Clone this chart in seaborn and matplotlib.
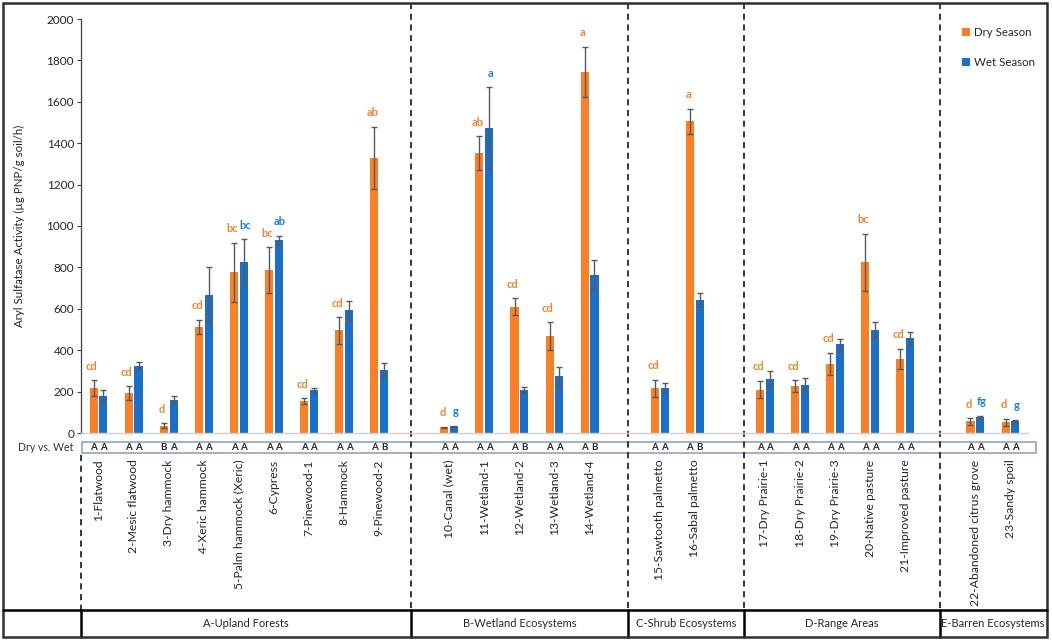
import seaborn as sns
import matplotlib.pyplot as plt
import pandas as pd
from matplotlib.patches import Rectangle

# site names (x categories)
sites = [
    "1-Flatwood", "2-Mesic flatwood", "3-Dry hammock", "4-Xeric hammock",
    "5-Palm hammock (Xeric)", "6-Cypress", "7-Pinewood-1", "8-Hammock", "9-Pinewood-2",
    "10-Canal (wet)", "11-Wetland-1", "12-Wetland-2", "13-Wetland-3", "14-Wetland-4",
    "15-Sawtooth palmetto", "16-Sabal palmetto",
    "17-Dry Prairie-1", "18-Dry Prairie-2", "19-Dry Prairie-3", "20-Native pasture",
    "21-Improved pasture",
    "22-Abandoned citrus grove", "23-Sandy spoil",
]
dry = [217, 193, 35, 512, 777, 786, 153, 496, 1328, 27, 1352, 610, 469, 1745,
       217, 1505, 209, 225, 335, 824, 359, 56, 52]
dry_err = [37, 32, 12, 35, 143, 112, 14, 64, 150, 3, 82, 40, 66, 121,
           41, 60, 42, 29, 53, 139, 48, 16, 16]
wet = [180, 325, 161, 668, 826, 934, 206, 592, 303, 32, 1475, 209, 274, 762,
       217, 641, 262, 233, 428, 499, 457, 77, 56]
wet_err = [29, 18, 18, 134, 110, 20, 13, 45, 33, 4, 195, 15, 46, 72,
           26, 34, 36, 34, 26, 36, 32, 7, 7]
dry_letters = ["cd", "cd", "d", "cd", "bc", "bc", "cd", "cd", "ab", "d", "ab", "cd", "cd", "a",
               "cd", "a", "cd", "cd", "cd", "bc", "cd", "d", "d"]
wet_letters = ["", "", "", "", "bc", "ab", "", "", "", "g", "a", "", "", "",
               "", "", "", "", "", "", "", "fg", "g"]
dvw_dry = ["A", "A", "B", "A", "A", "A", "A", "A", "A", "A", "A", "A", "A", "A",
           "A", "A", "A", "A", "A", "A", "A", "A", "A"]
dvw_wet = ["A", "A", "A", "A", "A", "A", "A", "A", "B", "A", "A", "B", "A", "B",
           "A", "B", "A", "A", "A", "A", "A", "A", "A"]
groups = ["A-Upland Forests", "B-Wetland Ecosystems", "C-Shrub Ecosystems",
          "D-Range Areas", "E-Barren Ecosystems"]
group_sizes = [9, 5, 2, 5, 2]

# category order with an empty slot between ecosystem groups
order = []
k = 0
for gi, n in enumerate(group_sizes):
    order += sites[k:k + n]
    k += n
    if gi < len(group_sizes) - 1:
        order.append(" " * (gi + 1))

df = pd.DataFrame({
    "site": sites * 2,
    "value": dry + wet,
    "season": ["Dry Season"] * len(sites) + ["Wet Season"] * len(sites),
})

ORANGE = "#FB7F24"
BLUE = "#1A6FCA"

sns.set_style("white")
plt.rcParams["font.family"] = ["Lato", "DejaVu Sans"]

fig = plt.figure(figsize=(10.52, 6.40), dpi=100)
ax = fig.add_axes([81 / 1052, 207 / 640, 947 / 1052, 414 / 640])

sns.barplot(data=df, x="site", y="value", hue="season", order=order,
            palette={"Dry Season": ORANGE, "Wet Season": BLUE}, saturation=1,
            width=0.56, gap=0.18, errorbar=None, linewidth=0, ax=ax)

# error bars and letters
off = 0.14
for i, s in enumerate(sites):
    x = order.index(s)
    ax.errorbar([x - off, x + off], [dry[i], wet[i]], yerr=[dry_err[i], wet_err[i]],
                fmt="none", ecolor="#595959", elinewidth=1, capsize=2.5, capthick=1)
    ax.text(x - off - 0.05, dry[i] + dry_err[i] + 68, dry_letters[i], color="#F5842F",
            fontsize=8, fontweight="bold", ha="center", va="center")
    if wet_letters[i]:
        ax.text(x + off + 0.03, wet[i] + wet_err[i] + 68, wet_letters[i], color="#1484CC",
                fontsize=8, fontweight="bold", ha="center", va="center")
    ax.text(x - off, -0.035, dvw_dry[i], transform=ax.get_xaxis_transform(),
            fontsize=7, fontweight="bold", ha="center", va="center")
    ax.text(x + off, -0.035, dvw_wet[i], transform=ax.get_xaxis_transform(),
            fontsize=7, fontweight="bold", ha="center", va="center")

ax.set_xlim(-0.5, len(order) - 0.5)
ax.set_ylim(0, 2000)
ax.set_yticks(range(0, 2001, 200))
ax.set_xlabel("")
ax.set_ylabel("Aryl Sulfatase Activity (µg PNP/g soil/h)", fontsize=8.3)
ax.yaxis.set_label_coords(-0.059, 0.5)
ax.tick_params(axis="y", labelsize=8.5, length=3, width=0.8, color="#404040", pad=2, left=True)
ax.tick_params(axis="x", labelsize=8.7, length=0, pad=19, rotation=90)
for lab in ax.get_xticklabels():
    lab.set_verticalalignment("top")

sns.despine(ax=ax)
ax.spines["left"].set_color("#404040")
ax.spines["left"].set_linewidth(0.9)
ax.spines["bottom"].set_color("#D0D0D0")
ax.spines["bottom"].set_linewidth(1)

# "Dry vs. Wet" row
ax.add_patch(Rectangle((0.001, -0.0483), 1.0075, 0.0266, transform=ax.transAxes,
                       fill=False, ec="#8EA6BF", lw=1.2, clip_on=False))
ax.text(-0.0085, -0.035, "Dry vs. Wet", transform=ax.transAxes, fontsize=7.6,
        color="#333333", ha="right", va="center")

# dashed separators and bottom table
xt = ax.get_xaxis_transform()
seps = [8.9, 15.1, 18.4, 24.0]
ax.plot([-0.5, -0.5], [-0.053, -0.4275], transform=xt, color="black", lw=1.1,
        ls=(0, (4, 3)), clip_on=False)
for s in seps:
    ax.plot([s, s], [1.0386, -0.4275], transform=xt, color="black", lw=1.1,
            ls=(0, (4, 3)), clip_on=False)
edges = [-0.5] + seps + [27.0]
for s in edges[:-1]:
    ax.plot([s, s], [-0.4275, -0.4928], transform=xt, color="black", lw=1.8, clip_on=False)
for j, g in enumerate(groups):
    ax.text((edges[j] + edges[j + 1]) / 2, -0.459, g, transform=xt, fontsize=8,
            ha="center", va="center")
fig.add_artist(plt.Line2D([3 / 1052, 1047 / 1052], [1 - 610 / 640, 1 - 610 / 640],
                          transform=fig.transFigure, color="black", lw=1.8))
fig.add_artist(Rectangle((3 / 1052, 3 / 640), 1044 / 1052, 634 / 640, transform=fig.transFigure,
                         fill=False, ec="#303030", lw=1.8))

sns.move_legend(ax, "upper left", bbox_to_anchor=(956 / 1052, 1 - 21 / 640),
                bbox_transform=fig.transFigure, title=None, frameon=False, fontsize=8.3,
                handlelength=0.7, handleheight=0.7, handletextpad=0.35, labelspacing=1.7,
                borderpad=0)

fig.savefig("out.png", dpi=100)
